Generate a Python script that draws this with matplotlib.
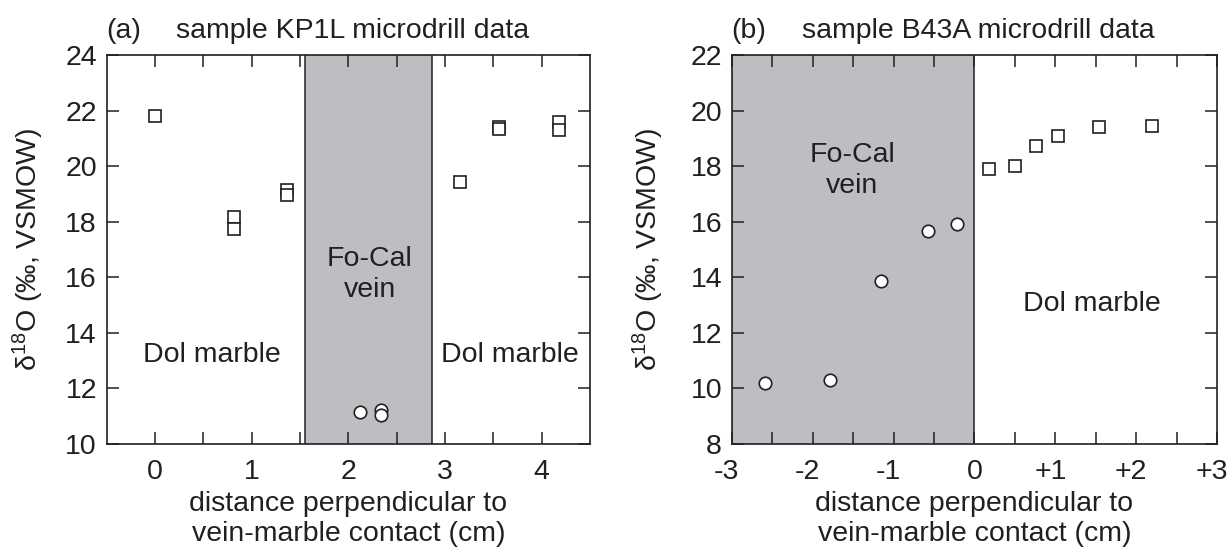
import matplotlib.pyplot as plt
from matplotlib.transforms import ScaledTranslation

plt.rcParams['font.family'] = ['Liberation Sans', 'DejaVu Sans']
plt.rcParams['font.size'] = 20.5
plt.rcParams['mathtext.fontset'] = 'custom'
plt.rcParams['mathtext.rm'] = 'Liberation Sans'
plt.rcParams['mathtext.it'] = 'Liberation Sans:italic'

# panel (a) sample KP1L
a_sq_x = [0.0, 0.82, 0.82, 1.37, 1.37, 3.15, 3.56, 3.56, 4.18, 4.18]
a_sq_y = [21.82, 18.16, 17.75, 19.15, 18.95, 19.42, 21.40, 21.32, 21.58, 21.31]
a_ci_x = [2.12, 2.34, 2.34]
a_ci_y = [11.15, 11.21, 11.03]
a_vein = (1.55, 2.87)

# panel (b) sample B43A
b_sq_x = [0.18, 0.50, 0.76, 1.03, 1.54, 2.20]
b_sq_y = [17.89, 18.02, 18.71, 19.10, 19.39, 19.45]
b_ci_x = [-2.59, -1.78, -1.15, -0.58, -0.22]
b_ci_y = [10.19, 10.31, 13.85, 15.68, 15.91]
b_vein = (-3.0, 0.0)

a_xticks = [0, 0.5, 1, 1.5, 2, 2.5, 3, 3.5, 4]
a_xlabels = ['0', '', '1', '', '2', '', '3', '', '4']
b_xticks = [-3, -2.5, -2, -1.5, -1, -0.5, 0, 0.5, 1, 1.5, 2, 2.5, 3]
b_xlabels = ['-3', '', '-2', '', '-1', '', '0', '', '+1', '', '+2', '', '+3']

gray = '#bdbec2'
ink = '#231f20'

fig = plt.figure(figsize=(12.3, 5.5), dpi=100)
ax1 = fig.add_axes([0.0867, 0.193, 0.393, 0.707])
ax2 = fig.add_axes([0.5949, 0.193, 0.3947, 0.707])


def style(ax, xticks, xlabels, yticks):
    ax.set_xticks(xticks)
    ax.set_xticklabels(xlabels)
    ax.set_yticks(yticks)
    ax.tick_params(direction='in', length=8.5, width=1.1, top=True, right=True,
                   colors=ink, labelcolor=ink, labelsize=20.5, pad=7)
    ax.tick_params(axis='x', pad=11)
    for s in ax.spines.values():
        s.set_linewidth(1.2)
        s.set_color(ink)
    ax.set_xlabel('distance perpendicular to\nvein-marble contact (cm)',
                  color=ink, fontsize=20.5, labelpad=4, linespacing=1.2)
    ax.set_ylabel('\u03b4$^{18}$O (‰, VSMOW)', color=ink, fontsize=20.5)


# (a)
ax1.axvspan(a_vein[0], a_vein[1], color=gray, lw=0, zorder=0)
for xv in a_vein:
    ax1.axvline(xv, color=ink, lw=1.1, zorder=1)
ax1.plot(a_sq_x, a_sq_y, 's', ms=9, mfc='white', mec=ink, mew=1.2, zorder=3)
ax1.plot(a_ci_x, a_ci_y, 'o', ms=9, mfc='white', mec=ink, mew=1.2, zorder=3)
ax1.set_xlim(-0.5, 4.5)
ax1.set_ylim(10, 24)
style(ax1, a_xticks, a_xlabels, range(10, 25, 2))
ax1.yaxis.set_label_coords(-0.125, 0.5)
ax1.text(0.59, 13.2, 'Dol marble', ha='center', va='center', color=ink)
ax1.text(3.67, 13.2, 'Dol marble', ha='center', va='center', color=ink)
ax1.text(2.22, 16.1, 'Fo-Cal\nvein', ha='center', va='center', color=ink,
         linespacing=1.25)
ax1.text(0.0, 1.045, '(a)', transform=ax1.transAxes, ha='left',
         va='baseline', color=ink)
ax1.text(0.1436, 1.045, 'sample KP1L microdrill data', transform=ax1.transAxes,
         ha='left', va='baseline', color=ink)

# (b)
ax2.axvspan(b_vein[0], b_vein[1], color=gray, lw=0, zorder=0)
ax2.axvline(b_vein[1], color=ink, lw=1.1, zorder=1)
ax2.plot(b_sq_x, b_sq_y, 's', ms=9, mfc='white', mec=ink, mew=1.2, zorder=3)
ax2.plot(b_ci_x, b_ci_y, 'o', ms=9, mfc='white', mec=ink, mew=1.2, zorder=3)
ax2.set_xlim(-3, 3)
ax2.set_ylim(8, 22)
style(ax2, b_xticks, b_xlabels, range(8, 23, 2))
ax2.yaxis.set_label_coords(-0.135, 0.5)
# signed labels sit a little left of their ticks, as in the source figure
shift = ScaledTranslation(-5 / 100, 0, fig.dpi_scale_trans)
for lab in ax2.get_xticklabels():
    if lab.get_text()[:1] in '+-':
        lab.set_transform(lab.get_transform() + shift)
ax2.text(1.45, 13.05, 'Dol marble', ha='center', va='center', color=ink)
ax2.text(-1.51, 17.83, 'Fo-Cal\nvein', ha='center', va='center', color=ink,
         linespacing=1.25)
ax2.text(0.0, 1.045, '(b)', transform=ax2.transAxes, ha='left',
         va='baseline', color=ink)
ax2.text(0.144, 1.045, 'sample B43A microdrill data', transform=ax2.transAxes,
         ha='left', va='baseline', color=ink)

fig.savefig('out.png', dpi=100)
